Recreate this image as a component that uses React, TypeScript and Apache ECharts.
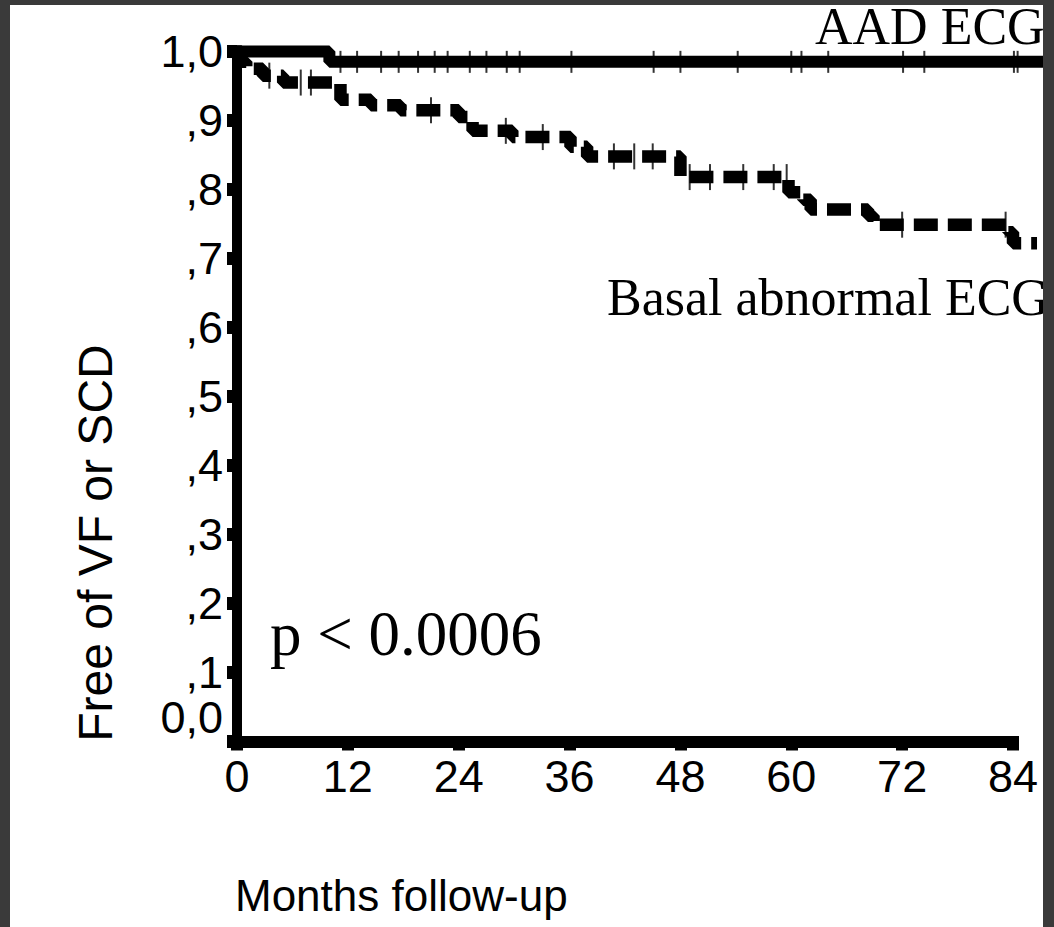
import React, { useEffect, useRef } from "react";
import * as echarts from "echarts";

// Kaplan–Meier data (months, survival)
const basalMonths = [0, 0.5, 1, 2.8, 5, 11.2, 14.5, 17.7, 24, 25.5, 29.8, 36.1, 37.9, 48, 59.7, 61.3, 62.1, 68.3, 68.9, 83.5, 84, 86.6];
const basalSurv = [1.0, 0.985, 0.975, 0.965, 0.955, 0.93, 0.922, 0.915, 0.905, 0.885, 0.876, 0.862, 0.848, 0.818, 0.796, 0.785, 0.771, 0.762, 0.749, 0.738, 0.722, 0.722];
const basalCensored = [3.5, 6.9, 8, 21, 29.1, 33.1, 40.8, 43, 45, 49, 51.2, 54.8, 58.1, 59.5, 72, 83.2];

const aadMonths = [0, 10, 88];
const aadSurv = [1.0, 0.985, 0.985];
const aadCensored = [11.2, 13, 15.6, 17.5, 19.6, 21.4, 22.8, 25.2, 27, 29.2, 30.6, 36.2, 45.1, 48, 54.2, 60, 61.1, 64, 72.1, 74.4, 84.1, 84.5];

const xTicks = [0, 12, 24, 36, 48, 60, 72, 84];
const yTickLabels = ["0,0", ",1", ",2", ",3", ",4", ",5", ",6", ",7", ",8", ",9", "1,0"];

const seriesNames = ["Basal abnormal ECG", "AAD ECG"];
const yTitle = "Free of VF or SCD";
const xTitle = "Months follow-up";
const pText = "p < 0.0006";

function survAt(times: number[], surv: number[], t: number) {
  let v = surv[0];
  for (let i = 0; i < times.length; i++) {
    if (times[i] <= t) v = surv[i];
  }
  return v;
}

const SANS = "'Liberation Sans', Arial, sans-serif";
const SERIF = "'Liberation Serif', 'Times New Roman', serif";

// grid geometry: 84 months over 776 px; plot grid extended to 88 months with same scale
const LEFT = 237;
const RIGHT = 41;
const TOP = 51.5;
const BOTTOM = 185.5;
const PX_PER_MONTH = (1054 - LEFT - RIGHT) / 84;
const PLOT_MAX = 88;
const PLOT_RIGHT = 1054 - LEFT - PX_PER_MONTH * PLOT_MAX;

export default function App() {
  const ref = useRef<HTMLDivElement>(null);
  useEffect(() => {
    document.body.style.margin = "0";
    if (!ref.current) return;
    const chart = echarts.init(ref.current, null, { renderer: "svg" });
    const basalData = basalMonths.map((m, i) => [m, basalSurv[i]]);
    const aadData = aadMonths.map((m, i) => [m, aadSurv[i]]);
    const basalCens = basalCensored.map((m) => [m, survAt(basalMonths, basalSurv, m)]);
    const aadCens = aadCensored.map((m) => [m, survAt(aadMonths, aadSurv, m)]);

    const option: any = {
      animation: false,
      backgroundColor: "#3a3a3a",
      grid: [
        { left: LEFT, right: RIGHT, top: TOP, bottom: BOTTOM, containLabel: false },
        { left: LEFT, right: PLOT_RIGHT, top: TOP, bottom: BOTTOM, containLabel: false },
      ],
      xAxis: [
        {
          type: "value",
          gridIndex: 0,
          min: 0,
          max: 84,
          interval: 12,
          axisLine: { show: true, onZero: false, lineStyle: { color: "#000", width: 12, cap: "square" } },
          axisTick: { show: true, length: 9, lineStyle: { color: "#000", width: 12 } },
          axisLabel: {
            color: "#000",
            fontSize: 45,
            fontFamily: SANS,
            margin: 12,
            showMinLabel: true,
            showMaxLabel: true,
            formatter: (v: number) => (xTicks.includes(v) ? String(v) : ""),
          },
          splitLine: { show: false },
          z: 5,
        },
        {
          type: "value",
          gridIndex: 1,
          min: 0,
          max: PLOT_MAX,
          show: false,
        },
      ],
      yAxis: [
        {
          type: "value",
          gridIndex: 0,
          min: 0,
          max: 1,
          interval: 0.1,
          axisLine: { show: true, lineStyle: { color: "#000", width: 10, cap: "square" } },
          axisTick: { show: true, length: 10, lineStyle: { color: "#000", width: 13 } },
          axisLabel: {
            color: "#000",
            fontSize: 45,
            fontFamily: SANS,
            margin: 14,
            showMinLabel: true,
            showMaxLabel: true,
            formatter: (v: number) => yTickLabels[Math.round(v * 10)],
          },
          splitLine: { show: false },
          z: 5,
        },
        {
          type: "value",
          gridIndex: 1,
          min: 0,
          max: 1,
          show: false,
        },
      ],
      series: [
        {
          name: seriesNames[0],
          type: "line",
          xAxisIndex: 1,
          yAxisIndex: 1,
          step: "end",
          data: basalData,
          symbol: "none",
          clip: false,
          z: 3,
          lineStyle: { color: "#000", width: 12.5, type: [24, 10], cap: "butt" },
        },
        {
          name: seriesNames[1],
          type: "line",
          xAxisIndex: 1,
          yAxisIndex: 1,
          step: "end",
          data: aadData,
          symbol: "none",
          clip: false,
          z: 3,
          lineStyle: { color: "#000", width: 12, type: "solid" },
        },
        {
          type: "scatter",
          xAxisIndex: 1,
          yAxisIndex: 1,
          data: basalCens,
          symbol: "rect",
          symbolSize: [2, 26],
          itemStyle: { color: "#000" },
          z: 4,
        },
        {
          type: "scatter",
          xAxisIndex: 1,
          yAxisIndex: 1,
          data: aadCens,
          symbol: "rect",
          symbolSize: [2, 22],
          itemStyle: { color: "#000" },
          z: 4,
        },
      ],
      graphic: [
        {
          type: "rect",
          z: -10,
          shape: { x: 10, y: 5, width: 1033, height: 930 },
          style: { fill: "#ffffff" },
        },
        {
          type: "text",
          x: 815,
          y: 26,
          z: 50,
          style: { text: seriesNames[1], fontSize: 52, fontFamily: SERIF, fill: "#000", align: "left", textAlign: "left", verticalAlign: "middle", textVerticalAlign: "middle" },
        },
        {
          type: "text",
          x: 607,
          y: 297,
          z: 50,
          style: { text: seriesNames[0], fontSize: 52, fontFamily: SERIF, fill: "#000", align: "left", textAlign: "left", verticalAlign: "middle", textVerticalAlign: "middle" },
        },
        {
          type: "text",
          x: 270,
          y: 634,
          z: 50,
          style: { text: pText, fontSize: 63, fontFamily: SERIF, fill: "#000", align: "left", textAlign: "left", verticalAlign: "middle", textVerticalAlign: "middle" },
        },
        {
          type: "text",
          x: 235,
          y: 895,
          z: 50,
          style: { text: xTitle, fontSize: 44, fontFamily: SANS, fill: "#000", align: "left", textAlign: "left", verticalAlign: "middle", textVerticalAlign: "middle" },
        },
        {
          type: "text",
          x: 95,
          y: 543,
          rotation: Math.PI / 2,
          z: 50,
          style: { text: yTitle, fontSize: 48, fontFamily: SANS, fill: "#000", align: "center", textAlign: "center", verticalAlign: "middle", textVerticalAlign: "middle" },
        },
        {
          type: "rect",
          z: 100,
          shape: { x: 1043, y: 0, width: 11, height: 927 },
          style: { fill: "#3a3a3a" },
        },
        {
          type: "rect",
          z: 100,
          shape: { x: 0, y: 0, width: 1054, height: 5 },
          style: { fill: "#3a3a3a" },
        },
      ],
    };
    chart.setOption(option);
    // lift the "0,0" label above the x axis, as in the reference
    const shiftZeroLabel = () => {
      const texts = ref.current?.querySelectorAll("text") || [];
      texts.forEach((t) => {
        if (t.textContent === yTickLabels[0]) {
          t.setAttribute("transform", (t.getAttribute("transform") || "") + " translate(0,-24)");
        }
      });
    };
    shiftZeroLabel();
    return () => chart.dispose();
  }, []);
  return <div ref={ref} style={{ width: 1054, height: 927 }} />;
}
